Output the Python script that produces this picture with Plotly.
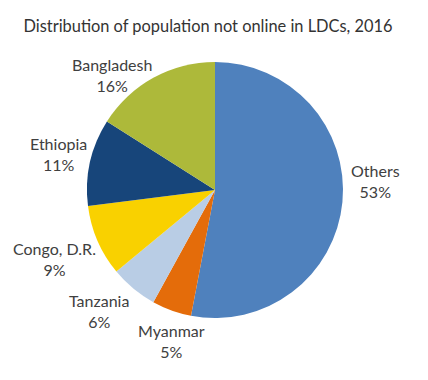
import math
import plotly.graph_objects as go

countries = ["Others", "Myanmar", "Tanzania", "Congo, D.R.", "Ethiopia", "Bangladesh"]
shares = [53, 5, 6, 9, 11, 16]
colors = ["#4F81BD", "#E46C0A", "#B9CDE5", "#F9D100", "#17457A", "#ADB93A"]

# label nudges in pixels (x right, y up), relative to the slice's outer mid-point
label_nudge = {
    "Others": (33, 21),
    "Myanmar": (0, -31),
    "Tanzania": (-34, -22),
    "Congo, D.R.": (-43, -18),
    "Ethiopia": (-32, 8),
    "Bangladesh": (-41, 3),
}

W, H = 428, 380
ML, MR, MT, MB = 87, 85, 62, 62

fig = go.Figure(go.Pie(
    labels=countries,
    values=shares,
    sort=False,
    direction="clockwise",
    rotation=0,
    marker=dict(colors=colors, line=dict(width=0)),
    textinfo="none",
    hoverinfo="label+percent",
    showlegend=False,
))

total = sum(shares)
cum = 0
annotations = []
for name, v in zip(countries, shares):
    mid = (cum + v / 2) / total * 2 * math.pi
    cum += v
    x = 0.5 + 0.5 * math.sin(mid)
    y = 0.5 + 0.5 * math.cos(mid)
    dx, dy = label_nudge[name]
    annotations.append(dict(
        x=x, y=y, xref="paper", yref="paper",
        text=f"{name}<br>{round(v / total * 100)}%",
        showarrow=False, xanchor="center", yanchor="middle", align="center",
        xshift=dx, yshift=dy,
        font=dict(family="Lato", size=16, color="#404040"),
    ))

fig.update_layout(
    width=W, height=H,
    margin=dict(l=ML, r=MR, t=MT, b=MB),
    paper_bgcolor="white",
    plot_bgcolor="white",
    annotations=annotations,
    title=dict(text="Distribution of population not online in LDCs, 2016",
               x=0.486, xanchor="center", y=1 - 26 / H, yanchor="middle",
               font=dict(family="Lato", size=16.4, color="#333333")),
)

fig.write_html("out.html", config={"displayModeBar": False},
               post_script="document.body.style.margin='0';")
